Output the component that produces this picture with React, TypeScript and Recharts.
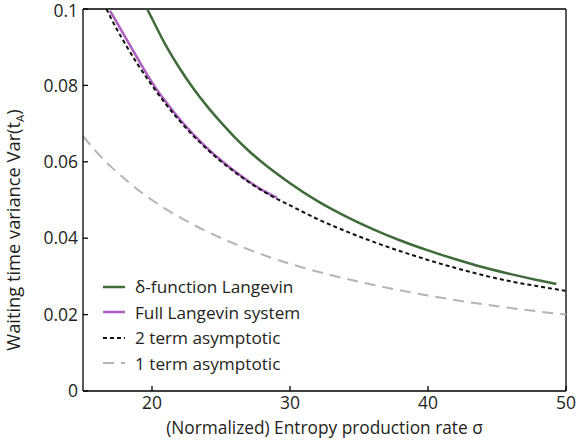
import { Label, Legend, Line, LineChart, ReferenceLine, XAxis, YAxis } from "recharts"

// delta-function Langevin (green)
const deltaSigma = [19.65, 20, 21, 22, 23, 24, 25, 26, 27, 28, 30, 32, 34, 36, 38, 40, 42, 44, 46, 48, 49.3]
const deltaVar = [0.1, 0.0975, 0.0905, 0.0845, 0.0792, 0.0745, 0.0703, 0.0664, 0.0629, 0.0598, 0.0544, 0.0497, 0.0458, 0.0424, 0.0394, 0.0368, 0.0345, 0.0324, 0.0306, 0.029, 0.028]

// full Langevin system (purple)
const fullSigma = [16.95, 17.5, 18, 19, 20, 21, 22, 23, 24, 25, 26, 27, 28, 29.05]
const fullVar = [0.0995, 0.0962, 0.093, 0.0868, 0.0808, 0.0757, 0.0712, 0.0672, 0.0636, 0.0604, 0.0575, 0.0549, 0.0526, 0.0506]

// 2 term asymptotic (black dashed)
const twoSigma = [16.7, 17, 18, 19, 20, 21, 22, 23, 24, 25, 26, 27, 28, 29, 30, 32, 34, 36, 38, 40, 42, 44, 46, 48, 50]
const twoVar = [0.1, 0.0978, 0.0912, 0.0853, 0.08, 0.0751, 0.0707, 0.0668, 0.0633, 0.0601, 0.0573, 0.0547, 0.0524, 0.0504, 0.0486, 0.045, 0.0419, 0.0391, 0.0366, 0.0343, 0.0322, 0.0303, 0.0287, 0.0274, 0.0262]

// 1 term asymptotic (grey dashed)
const oneSigma = [15, 16, 17, 18, 19, 20, 22, 24, 26, 28, 30, 33, 36, 40, 45, 50]
const oneVar = [0.0667, 0.0625, 0.0588, 0.0556, 0.0526, 0.05, 0.0455, 0.0417, 0.0385, 0.0357, 0.0333, 0.0303, 0.0278, 0.025, 0.0222, 0.02]

const xTicks = [20, 30, 40, 50]
const yTicks = [0, 0.02, 0.04, 0.06, 0.08, 0.1]

const zip = (xs: number[], ys: number[]) => xs.map((x, i) => ({ sigma: x, v: ys[i] }))

const series = [
  { name: "δ-function Langevin", data: zip(deltaSigma, deltaVar), color: "#3f6b39", dash: undefined, width: 2.5 },
  { name: "Full Langevin system", data: zip(fullSigma, fullVar), color: "#ad5fbf", dash: undefined, width: 2.5 },
  { name: "2 term asymptotic", data: zip(twoSigma, twoVar), color: "#111111", dash: "4 3", width: 2 },
  { name: "1 term asymptotic", data: zip(oneSigma, oneVar), color: "#b4b4b4", dash: "11 7", width: 2 },
]

const font = "'Open Sans', sans-serif"
const ink = "#231f20"

function LegendBox() {
  return (
    <div style={{ fontFamily: font, fontSize: 17.2, color: ink }}>
      {series.map((s) => (
        <div key={s.name} style={{ display: "flex", alignItems: "center", height: 25.5 }}>
          <svg width={32} height={10}>
            <line x1={0} y1={5} x2={22} y2={5} stroke={s.color} strokeWidth={s.width} strokeDasharray={s.dash} />
          </svg>
          <span>{s.name}</span>
        </div>
      ))}
    </div>
  )
}

function YLabel() {
  const cx = 20
  const cy = 230
  return (
    <text
      x={cx}
      y={cy}
      transform={`rotate(-90, ${cx}, ${cy})`}
      textAnchor="middle"
      fontFamily={font}
      fontSize={18.3}
      fill={ink}
    >
      Waiting time variance Var(t
      <tspan fontSize={11.5} dy={4}>A</tspan>
      <tspan dy={-4}>)</tspan>
    </text>
  )
}

export default function App() {
  return (
    <div style={{ position: "absolute", left: 0, top: 0, background: "#fff" }}>
      <LineChart width={577} height={440} margin={{ top: 9, right: 11, left: 0, bottom: 0 }}>
        <XAxis
          type="number"
          dataKey="sigma"
          domain={[15, 50]}
          ticks={xTicks}
          allowDataOverflow
          height={49}
          stroke="#000"
          strokeWidth={1.3}
          tickSize={-5}
          tickMargin={11}
          tick={{ fill: ink, fontSize: 17.5, fontFamily: font }}
        >
          <Label
            value="(Normalized) Entropy production rate σ"
            position="insideBottom"
            offset={6}
            style={{ fill: ink, fontSize: 17.3, fontFamily: font }}
          />
        </XAxis>
        <YAxis
          type="number"
          dataKey="v"
          domain={[0, 0.1]}
          ticks={yTicks}
          allowDataOverflow
          width={83}
          stroke="#000"
          strokeWidth={1.3}
          tickSize={-5}
          tickMargin={10}
          tick={{ fill: ink, fontSize: 17.5, fontFamily: font }}
        >
          <Label content={<YLabel />} />
        </YAxis>
        <ReferenceLine y={0.1} stroke="#000" strokeWidth={1.3} />
        <ReferenceLine x={50} stroke="#000" strokeWidth={1.3} />
        {series.map((s) => (
          <Line
            key={s.name}
            data={s.data}
            dataKey="v"
            name={s.name}
            type="monotone"
            stroke={s.color}
            strokeWidth={s.width}
            strokeDasharray={s.dash}
            dot={false}
            activeDot={false}
            isAnimationActive={false}
          />
        ))}
        <Legend
          layout="vertical"
          align="center"
          verticalAlign="middle"
          wrapperStyle={{ left: 103, top: 274, width: 250 }}
          content={() => <LegendBox />}
        />
      </LineChart>
    </div>
  )
}
